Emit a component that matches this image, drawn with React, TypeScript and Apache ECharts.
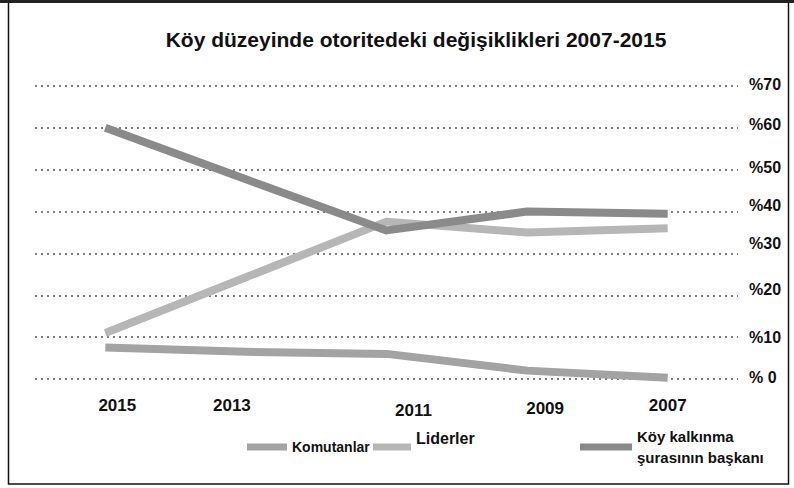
import React, { useEffect, useRef } from "react";
import * as echarts from "echarts";

const years = ["2015", "2013", "2011", "2009", "2007"];
const komutanlar = [7.5, 6.5, 6, 2, 0.3];
const liderler = [11, 24.3, 37.6, 35, 36];
const koyKalkinma = [60, 47.7, 35.5, 40, 39.5];
const yTicks = [0, 10, 20, 30, 40, 50, 60, 70];

const seriesNames = ["Komutanlar", "Liderler", "Köy kalkınma\nşurasının başkanı"];

// label nudges (the scanned original has irregular label placement)
const xLabelDx = [12, -14, 27, 18, 0];
const xLabelDy = [0, 0, 5, 3, 0];
const yLabelDy = [-2, 0, -6, -10, -6, -2, -3, -2];

const NARROW = '"Liberation Sans Narrow", "Arial Narrow", "Liberation Sans", Arial, sans-serif';
const SANS = '"Liberation Sans", Arial, sans-serif';
const C_KOM = "#a3a3a3";
const C_LID = "#b6b6b6";
const C_KOY = "#8a8a8a";

export default function App() {
  const ref = useRef<HTMLDivElement>(null);
  useEffect(() => {
    if (!ref.current) return;
    const chart = echarts.init(ref.current, undefined, { renderer: "svg" });

    const xRich: any = {};
    years.forEach((_, i) => {
      const dx = xLabelDx[i];
      const dy = xLabelDy[i];
      xRich["x" + i] = {
        fontFamily: NARROW,
        fontWeight: "bold",
        fontSize: 17,
        color: "#111",
        padding: [dy, dx < 0 ? -2 * dx : 0, 0, dx > 0 ? 2 * dx : 0],
      };
    });
    const yRich: any = {};
    yTicks.forEach((_, i) => {
      const dy = yLabelDy[i];
      yRich["y" + i] = {
        fontFamily: NARROW,
        fontWeight: "bold",
        fontSize: 16,
        color: "#111",
        padding: [dy > 0 ? 2 * dy : 0, 0, dy < 0 ? -2 * dy : 0, 0],
      };
    });

    const legendBase = {
      orient: "horizontal",
      icon: "rect",
      itemHeight: 7,
      padding: 0,
      selectedMode: false,
      textStyle: { fontFamily: NARROW, fontWeight: "bold", fontSize: 16, color: "#111" },
    };

    chart.setOption({
      animation: false,
      backgroundColor: "#fff",
      title: {
        text: "Köy düzeyinde otoritedeki değişiklikleri 2007-2015",
        left: 411,
        top: 24,
        textAlign: "center",
        textStyle: { fontFamily: SANS, fontWeight: "bold", fontSize: 21, color: "#111" },
      },
      grid: { left: 35, right: 56, top: 86, bottom: 109 },
      xAxis: {
        type: "category",
        data: years,
        boundaryGap: true,
        axisLine: { show: false },
        axisTick: { show: false },
        axisLabel: {
          margin: 18,
          formatter: (v: string, i: number) => `{x${i}|${v}}`,
          rich: xRich,
        },
      },
      yAxis: {
        type: "value",
        position: "right",
        min: 0,
        max: 70,
        interval: 10,
        axisLine: { show: false },
        axisTick: { show: false },
        axisLabel: {
          margin: 11,
          formatter: (v: number) => {
            const i = yTicks.indexOf(v);
            return `{y${i}|${v === 0 ? "% 0" : "%" + v}}`;
          },
          rich: yRich,
        },
        splitLine: { lineStyle: { type: [2, 4], color: "#555", width: 1.5 } },
      },
      legend: [
        {
          ...legendBase,
          data: [seriesNames[0]],
          left: 247,
          top: 440,
          itemWidth: 40,
          textStyle: { ...legendBase.textStyle, fontSize: 14 },
        },
        {
          ...legendBase,
          data: [seriesNames[1]],
          left: 373,
          top: 430,
          itemWidth: 38,
          formatter: (n: string) => `{a|${n}}`,
          textStyle: {
            ...legendBase.textStyle,
            rich: { a: { fontFamily: NARROW, fontWeight: "bold", fontSize: 16, color: "#111", padding: [0, 0, 18, 0] } },
          },
        },
        {
          ...legendBase,
          data: [seriesNames[2]],
          left: 580,
          top: 426,
          itemWidth: 52,
          textStyle: { ...legendBase.textStyle, lineHeight: 21, fontSize: 15 },
        },
      ],
      series: [
        {
          name: seriesNames[1],
          type: "line",
          data: liderler,
          symbol: "none",
          color: C_LID,
          lineStyle: { width: 8, color: C_LID, cap: "butt", join: "round" },
          z: 2,
        },
        {
          name: seriesNames[2],
          type: "line",
          data: koyKalkinma,
          symbol: "none",
          color: C_KOY,
          lineStyle: { width: 8, color: C_KOY, cap: "butt", join: "round" },
          z: 3,
        },
        {
          name: seriesNames[0],
          type: "line",
          data: komutanlar,
          symbol: "none",
          color: C_KOM,
          lineStyle: { width: 8, color: C_KOM, cap: "butt", join: "round" },
          z: 2,
        },
      ],
      graphic: [
        {
          type: "rect",
          shape: { x: 8.5, y: 2, width: 780, height: 482 },
          style: { fill: "none", stroke: "#111", lineWidth: 1.5 },
          silent: true,
          z: 10,
        },
        {
          type: "line",
          shape: { x1: 0, y1: 1.5, x2: 794, y2: 1.5 },
          style: { stroke: "#222", lineWidth: 3 },
          silent: true,
          z: 10,
        },
      ],
    });
    return () => chart.dispose();
  }, []);
  return (
    <div
      ref={ref}
      style={{ position: "fixed", left: 0, top: 0, width: 794, height: 488, background: "#fff" }}
    />
  );
}
